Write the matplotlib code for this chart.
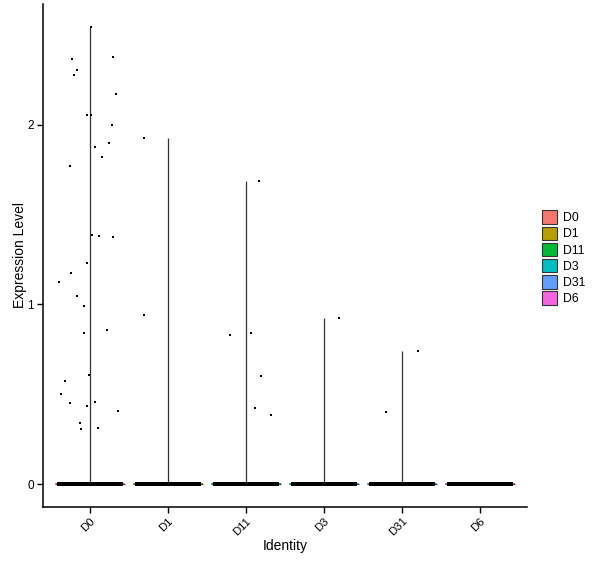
import matplotlib.pyplot as plt
from matplotlib.patches import Patch
import numpy as np

plt.rcParams['font.family'] = ['Liberation Sans', 'DejaVu Sans']

# groups and colours (ggplot hue palette)
groups = ["D0", "D1", "D11", "D3", "D31", "D6"]
colors = ["#F8766D", "#B79F00", "#00BA38", "#00BFC4", "#619CFF", "#F564E3"]

# non-zero expression values per group, and horizontal jitter
d0_vals = [2.545, 2.364, 2.375, 2.303, 2.275, 2.169, 2.052, 2.057, 1.996, 1.879,
           1.901, 1.823, 1.768, 1.387, 1.383, 1.378, 1.233, 1.177, 1.127, 1.049,
           0.993, 0.843, 0.860, 0.609, 0.575, 0.503, 0.453, 0.458, 0.436, 0.408,
           0.342, 0.308, 0.314]
d0_jit = [0.02, -0.23, 0.30, -0.16, -0.20, 0.34, -0.03, 0.01, 0.29, 0.07,
          0.24, 0.16, -0.25, 0.03, 0.12, 0.30, -0.03, -0.24, -0.39, -0.16,
          -0.07, -0.07, 0.22, -0.01, -0.32, -0.37, -0.25, 0.06, -0.03, 0.36,
          -0.12, -0.11, 0.11]
d1_vals = [1.928, 0.943]
d1_jit = [-0.31, -0.31]
d11_vals = [1.688, 0.832, 0.841, 0.602, 0.423, 0.384]
d11_jit = [0.17, -0.21, 0.06, 0.19, 0.11, 0.32]
d3_vals = [0.925]
d3_jit = [0.19]
d31_vals = [0.741, 0.403]
d31_jit = [0.20, -0.21]
d6_vals = []
d6_jit = []

vals = [d0_vals, d1_vals, d11_vals, d3_vals, d31_vals, d6_vals]
jits = [d0_jit, d1_jit, d11_jit, d3_jit, d31_jit, d6_jit]
n_zero = 120  # cells with zero expression drawn per group

fig = plt.figure(figsize=(6, 5.68), dpi=100)
ax = fig.add_axes([43 / 600, 61 / 568, 484 / 600, 503 / 568])

pos = np.arange(1, len(groups) + 1)
for i, (p, v, j) in enumerate(zip(pos, vals, jits)):
    vmax = max(v) if v else 0
    # violin: collapsed to a spike plus a flat base at zero
    ax.fill_between([p - 0.45, p + 0.45], 0, 0.004, color=colors[i], lw=0)
    ax.hlines(0, p - 0.45, p + 0.45, color="#333333", lw=0.8, zorder=2)
    if vmax > 0:
        ax.vlines(p, 0, vmax, color="#333333", lw=0.9, zorder=2)
    # zero points
    zx = p + np.linspace(-0.40, 0.40, n_zero)
    ax.scatter(zx, np.zeros(n_zero), s=7, marker="s", color="black", lw=0, zorder=3)
    if v:
        ax.scatter(p + np.array(j), v, s=4, marker="s", color="black", lw=0, zorder=3)

ax.set_xlim(0.4, 6.6)
ax.set_ylim(-0.127, 2.672)
ax.set_xticks(pos)
ax.set_xticklabels(groups, rotation=45, ha="right", va="top", rotation_mode="anchor",
                   fontsize=8.2)
ax.set_yticks([0, 1, 2])
ax.set_yticklabels(["0", "1", "2"], fontsize=8.5)
ax.tick_params(direction="out", length=4, width=1, colors="black", pad=2.5)
ax.set_xlabel("Identity", fontsize=10, labelpad=1)
ax.set_ylabel("Expression Level", fontsize=10, labelpad=0)
for s in ["top", "right"]:
    ax.spines[s].set_visible(False)
for s in ["left", "bottom"]:
    ax.spines[s].set_linewidth(1.1)

handles = [Patch(facecolor=c, edgecolor="#333333", lw=0.8, label=g) for g, c in zip(groups, colors)]
fig.legend(handles=handles, loc="center left", bbox_to_anchor=(0.895, 0.546),
           frameon=False, fontsize=8.8, handlelength=1.2, handleheight=1.3,
           labelspacing=0.2, handletextpad=0.5, borderaxespad=0)

fig.savefig("out.png", dpi=100)
